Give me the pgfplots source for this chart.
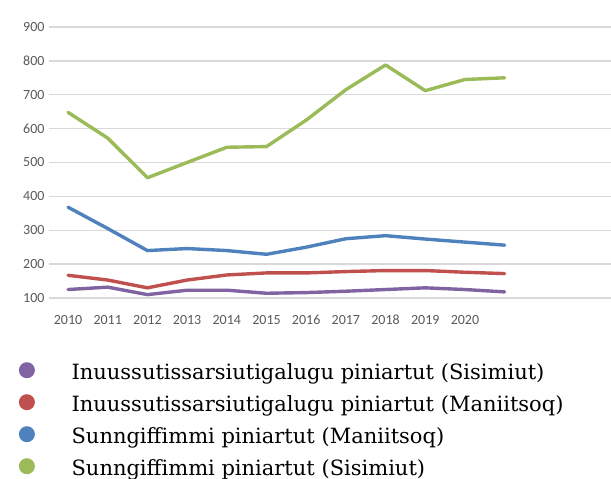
\documentclass[border=0pt]{standalone}
\usepackage{fontspec}
\setmainfont{DejaVu Serif}
\newfontfamily\carlito{Carlito}
\usepackage{pgfplots}
\pgfplotsset{compat=1.18}
\definecolor{cpurple}{HTML}{8064A2}
\definecolor{cred}{HTML}{C0504D}
\definecolor{cblue}{HTML}{4F81BD}
\definecolor{cgreen}{HTML}{9BBB59}
\definecolor{gridgray}{HTML}{D9D9D9}
\definecolor{ticktext}{HTML}{595959}
\begin{document}
\begin{tikzpicture}
\useasboundingbox (0,0) rectangle (611pt,479pt);
\begin{axis}[
  at={(49pt,181pt)}, anchor=south west,
  scale only axis, width=562pt, height=271pt,
  xmin=2009.52, xmax=2023.68, ymin=100, ymax=900,
  axis line style={draw=none},
  xtick={2010,2011,...,2020}, ytick={100,200,...,900},
  xticklabel style={/pgf/number format/1000 sep={}, anchor=base, yshift=-27pt},
  major tick length=0pt,
  ymajorgrids, grid style={gridgray, line width=1.3pt},
  /pgf/number format/assume math mode=true,
  tick label style={font=\carlito\fontsize{14}{14}\selectfont, text=ticktext},
  yticklabel style={xshift=-1pt},
  legend style={at={(0,0)}, anchor=north west, xshift=-35pt, yshift=-62pt,
    draw=none, fill=none, font=\fontsize{21}{21}\selectfont, row sep=10pt,
    nodes={inner sep=0pt, text height=15pt, text depth=5pt},
    /tikz/every even column/.append style={column sep=0pt}},
  legend cell align=left,
  legend image code/.code={\fill[#1, draw=none] (8pt,4pt) circle (8pt); \path (0pt,0pt) (51pt,0pt);},
  every axis plot/.append style={line width=3.4pt, line join=round, line cap=round},
]
\addplot[cpurple] coordinates {(2010,125)(2011,132)(2012,110)(2013,123)(2014,123)(2015,114)(2016,116)(2017,120)(2018,125)(2019,130)(2020,125)(2021,118)};
\addlegendentry{Inuussutissarsiutigalugu piniartut (Sisimiut)}
\addplot[cred] coordinates {(2010,167)(2011,153)(2012,130)(2013,153)(2014,168)(2015,174)(2016,174)(2017,178)(2018,181)(2019,181)(2020,176)(2021,172)};
\addlegendentry{Inuussutissarsiutigalugu piniartut (Maniitsoq)}
\addplot[cblue] coordinates {(2010,368)(2011,305)(2012,240)(2013,246)(2014,240)(2015,229)(2016,250)(2017,275)(2018,284)(2019,274)(2020,265)(2021,256)};
\addlegendentry{Sunngiffimmi piniartut (Maniitsoq)}
\addplot[cgreen] coordinates {(2010,648)(2011,572)(2012,455)(2013,500)(2014,545)(2015,547)(2016,625)(2017,715)(2018,788)(2019,712)(2020,745)(2021,750)};
\addlegendentry{Sunngiffimmi piniartut (Sisimiut)}
\end{axis}
\end{tikzpicture}
\end{document}
